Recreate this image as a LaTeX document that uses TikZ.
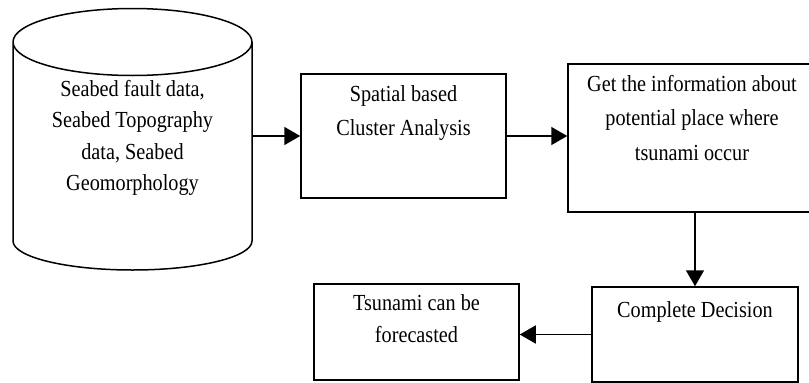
\documentclass[tikz,border=0pt]{standalone}
\usepackage{fontspec}
\setmainfont{Liberation Serif}[FakeStretch=0.88]
\usetikzlibrary{arrows.meta}

\tikzset{
  flowline/.style={line width=1.5pt, -{Triangle[length=16pt, width=18pt]}},
  procbox/.style={draw, line width=1.5pt, inner sep=0pt},
  boxtext/.style={align=center, inner sep=0pt, font=\fontsize{23}{34.5}\selectfont},
}

\begin{document}
\begin{tikzpicture}[x=1pt, y=-1pt]
  \useasboundingbox (0,0) rectangle (809,383);
  \clip (0,0) rectangle (809,383);

  % data store drawn as a cylinder
  \draw[line width=1.5pt]
    (13,42) arc[start angle=180, end angle=0, x radius=119.5, y radius=33.5]
            arc[start angle=0, end angle=-180, x radius=119.5, y radius=33.5]
    -- (13,241) arc[start angle=180, end angle=0, x radius=119.5, y radius=29]
    -- (252,42);
  \node[inner sep=0pt, minimum width=239pt, minimum height=200pt] (db) at (132.5,140) {};
  \node[boxtext, font=\fontsize{23}{31.5}\selectfont] (dbtext) at (132.5,138)
    {Seabed fault data,\\Seabed Topography\\data, Seabed\\Geomorphology};

  % processing boxes
  \node[procbox, minimum width=205pt, minimum height=124pt] (sp) at (403.5,136) {};
  \node[boxtext] (sptext) at (403.5,113) {Spatial based\\Cluster Analysis};

  \node[procbox, minimum width=248pt, minimum height=148pt] (gi) at (692,138) {};
  \node[boxtext] (gitext) at (692,118)
    {Get the information about\\potential place where\\tsunami occur};

  \node[procbox, minimum width=206pt, minimum height=95pt] (cd) at (695,334.5) {};
  \node[boxtext] (cdtext) at (695,312) {Complete Decision};

  \node[procbox, minimum width=205pt, minimum height=96pt] (tf) at (416.5,332) {};
  \node[boxtext, font=\fontsize{23}{32}\selectfont] (tftext) at (416.5,319)
    {Tsunami can be\\forecasted};

  % connectors
  \draw[flowline] (db.east |- sp.west) -- (sp.west);
  \draw[flowline] (sp.east) -- (gi.west |- sp.east);
  \draw[flowline] (cd.north |- gi.south) -- (cd.north);
  \draw[flowline] (cd.west) -- (tf.east |- cd.west);
\end{tikzpicture}
\end{document}
